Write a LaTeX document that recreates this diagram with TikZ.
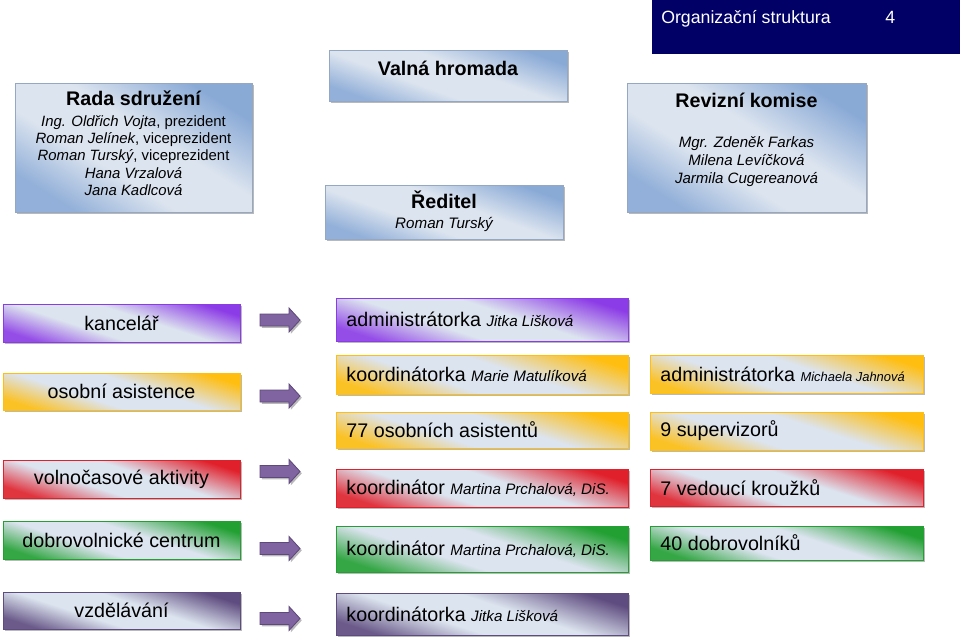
\documentclass[tikz,border=0pt]{standalone}
\usepackage{fontspec}
\setmainfont{Liberation Sans}
\usetikzlibrary{positioning, shapes.arrows, shadows}
\definecolor{zahlavi}{HTML}{000066}
\definecolor{podklad}{HTML}{DCE4EF}
\definecolor{modra}{HTML}{8AAAD6}
\definecolor{modraokraj}{HTML}{94A8C4}
\definecolor{fialova}{HTML}{8C3CE6}
\definecolor{oranzova}{HTML}{FFBE10}
\definecolor{cervena}{HTML}{E0202A}
\definecolor{zelena}{HTML}{22A032}
\definecolor{svestka}{HTML}{5E4B7F}
\definecolor{sipkabarva}{HTML}{8064A2}
\definecolor{sipkaokraj}{HTML}{5F497A}
\colorlet{okraj}{modra}
\colorlet{okrajsvetly}{modra}

% prechod: roh vpravo nahore a vlevo dole barevny, stred svetly
\pgfdeclareverticalshading[okraj,okrajsvetly,podklad]{krabicestin}{100bp}{%
  color(0bp)=(okrajsvetly); color(25bp)=(okrajsvetly); color(41bp)=(podklad);
  color(56bp)=(podklad); color(75bp)=(okraj); color(100bp)=(okraj)}

\newcommand{\jmeno}[1]{{\fontsize{10.8}{12}\selectfont\itshape #1}}
\newcommand{\sipka}[2]{%
  \filldraw[sipkastyl] (#1-20,#2-6) -- (#1+9,#2-6) -- (#1+9,#2-12) -- (#1+20,#2)
    -- (#1+9,#2+12) -- (#1+9,#2+6) -- (#1-20,#2+6) -- cycle;}

\tikzset{
  wh/.style 2 args={minimum width=#1*0.025cm, minimum height=#2*0.025cm},
  stin/.style={drop shadow={shadow xshift=1.3pt, shadow yshift=-1.3pt, fill=black!50, opacity=0.55}},
  krabice/.style={draw=#1, semithick,
    /utils/exec={\colorlet{okraj}{#1}\colorlet{okrajsvetly}{#1!90!podklad}},
    shade, shading=krabicestin, shading angle=-18, stin, inner sep=0pt},
  horni/.style={krabice=modra, draw=modraokraj, shading angle=#1},
  levy/.style={krabice=#1, font=\fontsize{14}{16}\selectfont},
  stredni/.style={krabice=#1, align=flush left, text width=6.8cm, inner xsep=0.25cm,
    font=\fontsize{14}{16}\selectfont},
  pravy/.style={krabice=#1, align=flush left, text width=6.3cm, inner xsep=0.25cm,
    font=\fontsize{14}{16}\selectfont},
  nazev/.style={font=\fontsize{14}{16}\selectfont\bfseries, inner sep=0pt},
  clenove/.style={align=center, inner sep=0pt},
  sipkastyl/.style={fill=sipkabarva, draw=sipkaokraj, semithick, stin},
}

\begin{document}
\begin{tikzpicture}[x=0.025cm, y=-0.025cm]
  \useasboundingbox (0,0) rectangle (960,640);

  % === ZAHLAVI ===
  \fill[zahlavi] (652,0) rectangle (960,54);
  \node[white, font=\fontsize{12.6}{14}\selectfont, anchor=base west, inner sep=0pt] (titulek) at (661,23) {Organizační struktura};
  \node[white, font=\fontsize{12.6}{14}\selectfont, anchor=base west, inner sep=0pt] (strana) at (885,23) {4};

  % === HORNI KRABICE ===
  \node[horni=-32, wh={237}{129}] (rada) at (133.5,147.5) {};
  \node[nazev, anchor=base] (radaNazev) at (133.5,105) {Rada sdružení};
  \node[clenove, font=\fontsize{10.6}{12.3}\selectfont, anchor=north] (radaClenove) at (133.5,115)
    {\textit{Ing. Oldřich Vojta}, prezident\\ \textit{Roman Jelínek}, viceprezident\\
     \textit{Roman Turský}, viceprezident\\ \textit{Hana Vrzalová}\\ \textit{Jana Kadlcová}};

  \node[horni=-20, wh={238}{51}] (valna) at (448,75.5) {};
  \node[nazev, anchor=base] (valnaNazev) at (448,75) {Valná hromada};

  \node[horni=-20, wh={238}{54}] (reditel) at (444,212) {};
  \node[nazev, anchor=base] (reditelNazev) at (444,208) {Ředitel};
  \node[font=\fontsize{10.8}{12}\selectfont\itshape, anchor=base, inner sep=0pt] (reditelJmeno) at (444,228) {Roman Turský};

  \node[horni=-32, wh={239}{129}] (revize) at (746.5,147.5) {};
  \node[nazev, anchor=base] (revizeNazev) at (746.5,107) {Revizní komise};
  \node[clenove, font=\fontsize{10.7}{12.8}\selectfont\itshape, anchor=north] (revizeClenove) at (746.5,136)
    {Mgr. Zdeněk Farkas\\ Milena Levíčková\\ Jarmila Cugereanová};

  % === LEVY SLOUPEC ===
  \node[levy=fialova, wh={237}{38}] (kancelar) at (121.5,323) {kancelář};
  \node[levy=oranzova, wh={237}{37}] (osobni) at (121.5,391.5) {osobní asistence};
  \node[levy=cervena, wh={237}{38}] (volno) at (121.5,479) {volnočasové aktivity};
  \node[levy=zelena, wh={237}{38}] (dobro) at (121.5,540) {dobrovolnické centrum};
  \node[levy=svestka, wh={237}{37}] (vzdel) at (121.5,610.5) {vzdělávání};

  % === SIPKY ===
  \foreach \y in {320,396,471.5,548.5,618.5} {\sipka{280}{\y}}

  % === STREDNI SLOUPEC ===
  \node[stredni=fialova, wh={291}{43}] (kancelarM) at (482.5,319.5) {administrátorka \jmeno{Jitka Lišková}};
  \node[stredni=oranzova, wh={291}{39}] (osobniM) at (482.5,374.5) {koordinátorka \jmeno{Marie Matulíková}};
  \node[stredni=oranzova, wh={291}{36}] (asistentiM) at (482.5,430) {77 osobních asistentů};
  \node[stredni=cervena, wh={291}{38}] (volnoM) at (482.5,488) {koordinátor \jmeno{Martina Prchalová, DiS.}};
  \node[stredni=zelena, wh={291}{46}] (dobroM) at (482.5,549) {koordinátor \jmeno{Martina Prchalová, DiS.}};
  \node[stredni=svestka, wh={291}{42}] (vzdelM) at (482.5,614) {koordinátorka \jmeno{Jitka Lišková}};

  % === PRAVY SLOUPEC ===
  \node[pravy=oranzova, wh={273}{38}] (osobniP) at (786.5,374) {administrátorka {\fontsize{9.2}{11}\selectfont\itshape Michaela Jahnová}};
  \node[pravy=oranzova, wh={273}{38}] (asistentiP) at (786.5,431) {9 supervizorů};
  \node[pravy=cervena, wh={273}{37}] (volnoP) at (786.5,487.5) {7 vedoucí kroužků};
  \node[pravy=zelena, wh={273}{34}] (dobroP) at (786.5,543) {40 dobrovolníků};

\end{tikzpicture}
\end{document}
